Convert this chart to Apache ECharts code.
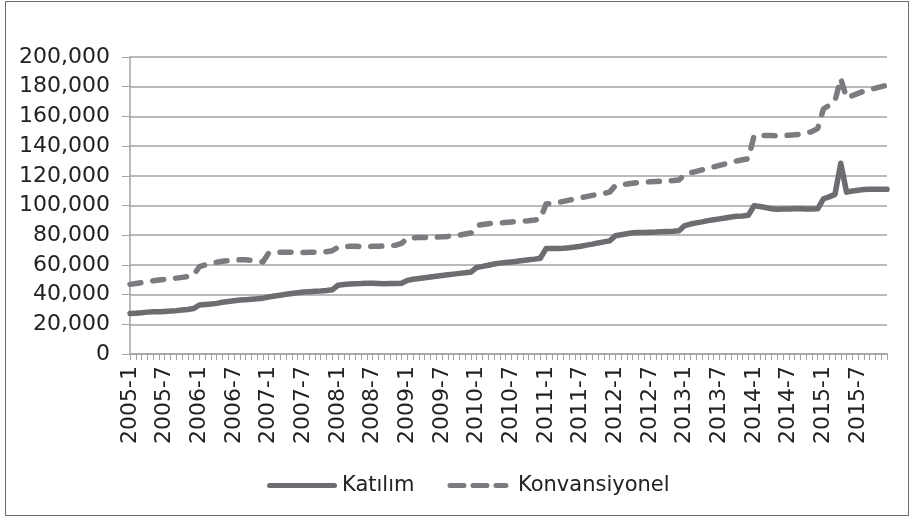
<!DOCTYPE html>
<html>
<head>
<meta charset="utf-8">
<title>Katılım / Konvansiyonel</title>
<script src="https://cdn.jsdelivr.net/npm/echarts@6/dist/echarts.min.js"></script>
<style>
  html, body { margin: 0; padding: 0; background: #fff; }
  #wrap { position: relative; width: 913px; height: 517px; }
  #chart { width: 913px; height: 517px; }
  #frame {
    position: absolute; left: 5px; top: 1px; width: 902px; height: 513px;
    border: 1px solid #6e6e6e; pointer-events: none;
  }
</style>
</head>
<body>
<div id="wrap">
  <div id="chart"></div>
  <div id="frame"></div>
</div>
<script>
// months 2005-1 .. 2015-12
const years = [2005, 2006, 2007, 2008, 2009, 2010, 2011, 2012, 2013, 2014, 2015]
const categories = []
years.forEach(y => {
  for (let m = 1; m <= 12; m++) categories.push(y + '-' + m)
})

const katilim = [
  27200, 27500, 27800, 28200, 28400, 28500, 28700, 28900, 29200, 29600, 30000, 30600, // 2005
  33000, 33400, 33700, 34100, 34800, 35400, 35900, 36300, 36600, 36900, 37200, 37600, // 2006
  38400, 39000, 39600, 40200, 40800, 41300, 41700, 42000, 42200, 42400, 42700, 43200, // 2007
  46300, 46800, 47100, 47300, 47400, 47600, 47700, 47500, 47300, 47400, 47500, 47600, // 2008
  49600, 50300, 50800, 51300, 51800, 52300, 52800, 53300, 53800, 54300, 54700, 55200, // 2009
  58300, 59000, 59800, 60600, 61200, 61600, 62000, 62400, 62900, 63400, 63900, 64500, // 2010
  71000, 71100, 71000, 71200, 71500, 72000, 72600, 73300, 74000, 74800, 75500, 76200, // 2011
  79600, 80300, 81000, 81600, 81800, 81900, 82000, 82100, 82300, 82500, 82700, 83000, // 2012
  86500, 87500, 88300, 89000, 89800, 90400, 91000, 91600, 92200, 92700, 93000, 93400, // 2013
  99800, 99300, 98600, 97800, 97500, 97600, 97700, 97800, 97800, 97700, 97600, 97800, // 2014
  104500, 105800, 107500, 128500, 109000, 109800, 110300, 110700, 111000, 111000, 111000, 110900 // 2015
]

const konvansiyonel = [
  46900, 47500, 48100, 48700, 49300, 49800, 50200, 50600, 51100, 51600, 52200, 53000, // 2005
  58800, 60000, 61000, 61800, 62400, 62900, 63300, 63500, 63400, 63000, 62500, 62000, // 2006
  68000, 68500, 68600, 68500, 68500, 68400, 68400, 68500, 68600, 68700, 68900, 69500, // 2007
  72000, 72300, 72500, 72500, 72400, 72400, 72500, 72600, 72700, 72900, 73300, 74500, // 2008
  78000, 78300, 78400, 78500, 78500, 78700, 78900, 79200, 79600, 80000, 80800, 81500, // 2009
  86500, 87200, 87700, 88000, 88300, 88600, 88900, 89200, 89500, 89800, 90200, 90800, // 2010
  101000, 101500, 102000, 102800, 103600, 104400, 105200, 106000, 106800, 107500, 108200, 109000, // 2011
  113500, 114000, 114500, 115000, 115400, 115700, 116000, 116200, 116400, 116600, 116800, 117200, // 2012
  121000, 122000, 123000, 124000, 125000, 126000, 127000, 128000, 129000, 130000, 130800, 131500, // 2013
  147000, 147200, 147200, 147100, 147000, 147100, 147300, 147600, 148000, 148800, 149800, 151800, // 2014
  165000, 167500, 170500, 185500, 172500, 174000, 175500, 177000, 178000, 179000, 180000, 181000  // 2015
]

const yMin = 0
const yMax = 200000
const yStep = 20000

const font = 'DejaVu Sans'
const axisGray = '#a3a3a3'
const solidColor = '#6c6d71'
const dashColor = '#7b7c80'

// rounded bar from a to b, 5 high, used for legend icons
function pill(a, b) {
  return 'M' + (a + 2.5) + ',0H' + (b - 2.5) + 'A2.5,2.5,0,0,1,' + (b - 2.5) + ',5H' + (a + 2.5) +
    'A2.5,2.5,0,0,1,' + (a + 2.5) + ',0Z'
}
const solidIcon = 'path://' + pill(0, 70)
const dashIcon = 'path://' + pill(0, 19) + pill(23, 42) + pill(46, 61)

const chart = echarts.init(document.getElementById('chart'))
chart.setOption({
  animation: false,
  grid: {
    left: 130,
    right: 26,
    top: 57,
    bottom: 163
  },
  legend: {
    top: 470,
    left: 262,
    itemWidth: 70,
    itemHeight: 5,
    itemGap: 33,
    textStyle: { fontFamily: font, fontSize: 21, color: '#222' },
    data: [
      { name: 'Katılım', icon: solidIcon, itemStyle: { color: solidColor } },
      { name: 'Konvansiyonel', icon: dashIcon, itemStyle: { color: dashColor } }
    ]
  },
  xAxis: {
    type: 'category',
    boundaryGap: false,
    data: categories,
    axisLine: { lineStyle: { color: axisGray, width: 1.5 } },
    axisTick: { show: true, interval: 0, length: 6, lineStyle: { color: axisGray } },
    axisLabel: {
      interval: 5,
      rotate: 90,
      margin: 12,
      fontFamily: font,
      fontSize: 22,
      color: '#222'
    },
    splitLine: { show: false }
  },
  yAxis: {
    type: 'value',
    min: yMin,
    max: yMax,
    interval: yStep,
    axisLine: { show: true, lineStyle: { color: axisGray, width: 1.5 } },
    axisTick: { show: true, length: 8, lineStyle: { color: axisGray } },
    axisLabel: {
      margin: 20,
      fontFamily: font,
      fontSize: 22,
      color: '#222',
      formatter: v => v.toLocaleString('en-US')
    },
    splitLine: { lineStyle: { color: axisGray, width: 1.5 } }
  },
  series: [
    {
      name: 'Katılım',
      type: 'line',
      data: katilim,
      symbol: 'none',
      lineStyle: { color: solidColor, width: 5.5, cap: 'round', join: 'round' },
      itemStyle: { color: solidColor }
    },
    {
      name: 'Konvansiyonel',
      type: 'line',
      data: konvansiyonel,
      symbol: 'none',
      lineStyle: { color: dashColor, width: 5.5, type: [11, 12], cap: 'round', join: 'round' },
      itemStyle: { color: dashColor }
    }
  ]
})
</script>
</body>
</html>
